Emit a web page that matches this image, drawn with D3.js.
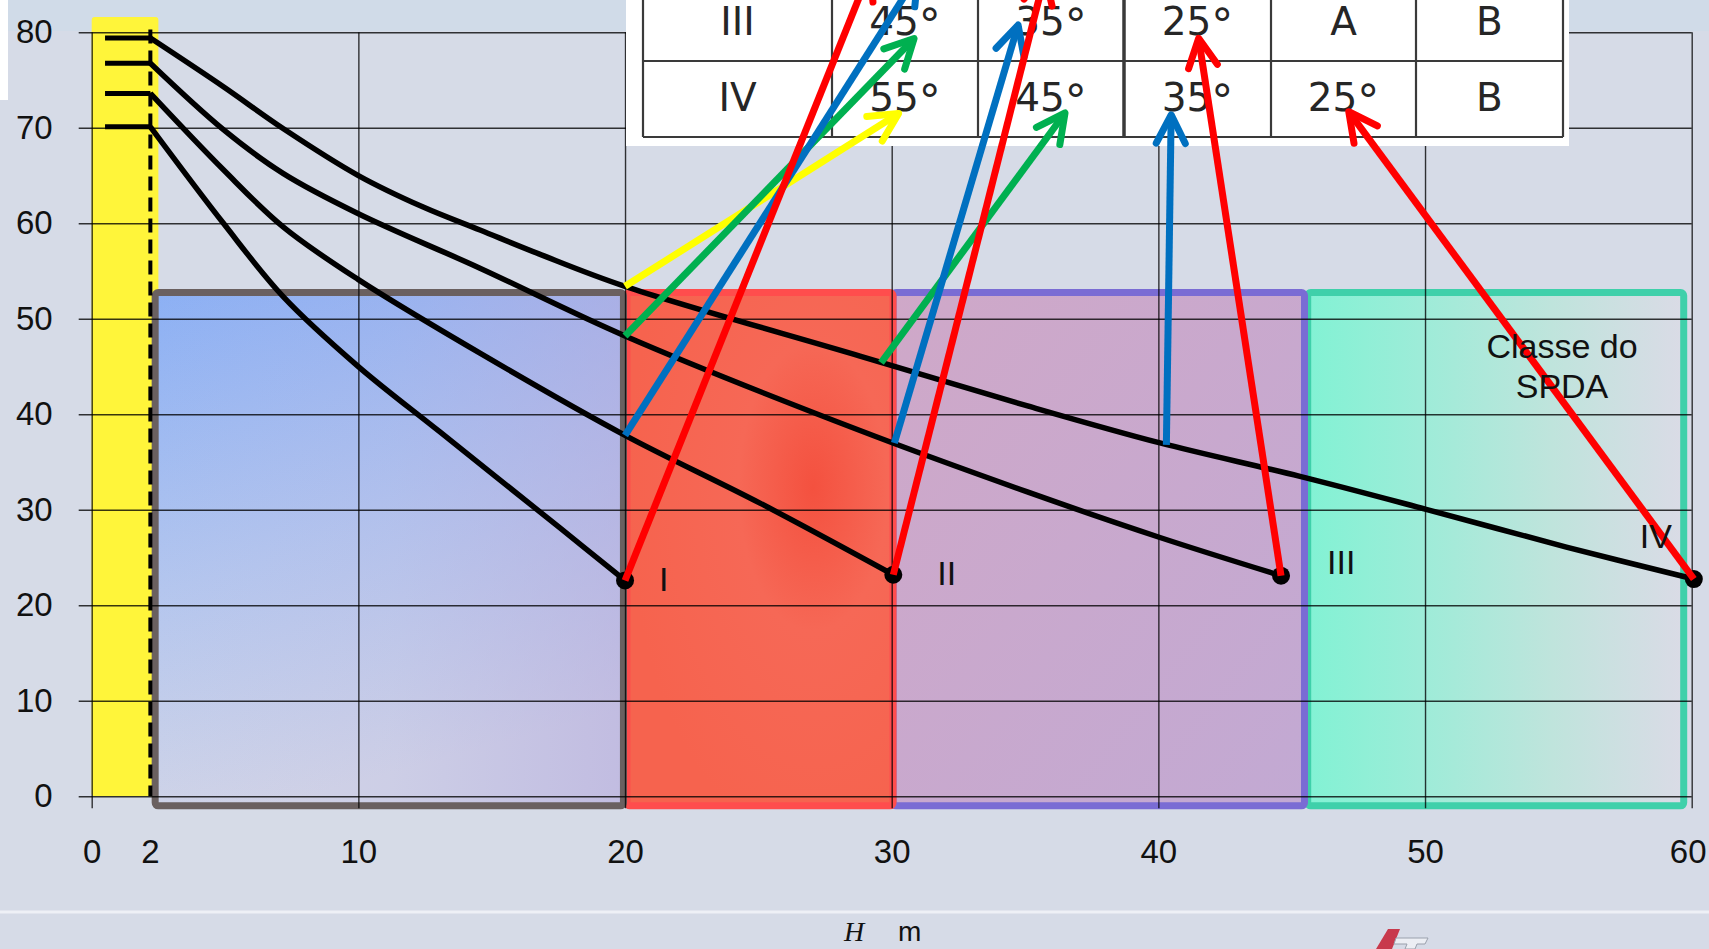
<!DOCTYPE html>
<html>
<head>
<meta charset="utf-8">
<script src="https://cdn.jsdelivr.net/npm/d3@7"></script>
<style>
html, body { margin: 0; padding: 0; background: #d5dbe7; overflow: hidden; }
svg { display: block; }
</style>
</head>
<body>
<svg id="chart" width="1709" height="949"></svg>
<script>
// ---- data ----
const xTicks = [0, 10, 20, 30, 40, 50, 60];
const yTicks = [0, 10, 20, 30, 40, 50, 60, 70, 80];
const mastX = 2.2;
const mastLabel = '2';
const mastLevels = [79.4, 76.75, 73.6, 70.1];
const classLabels = ['I', 'II', 'III', 'IV'];
const endPoints = [[20.0, 22.6], [30.06, 23.2], [44.6, 23.1], [60.08, 22.75]];

const curveI = [[2.2, 70.1], [4.94, 60.0], [7.19, 52.3], [10, 45.0], [13.06, 38.15], [17.56, 28.1], [20.0, 22.6]];
const curveII = [[2.2, 73.6], [4.94, 65.6], [7.19, 59.6], [10, 54.1], [14.56, 46.4], [20, 37.8], [25.06, 30.7], [30.06, 23.2]];
const curveIII = [[2.2, 76.75], [4.94, 69.8], [7.19, 65.2], [10, 61.0], [14.56, 55.3], [20, 48.2], [28.81, 38.3], [35.06, 31.9], [40.06, 27.1], [44.6, 23.1]];
const curveIV = [[2.2, 79.4], [4.94, 74.3], [7.19, 69.9], [10, 65.0], [12.43, 61.7], [14.56, 59.3], [16.77, 56.8], [20, 53.4], [28.81, 46.1], [35.06, 40.9], [40.06, 37.0], [45.31, 33.5], [50.04, 30.05], [55.3, 26.1], [60.08, 22.75]];

// zones of each class (x range), common top / bottom
const zoneX0 = [2.38, 20.07, 30.05, 45.6];
const zoneX1 = [19.94, 30.05, 45.48, 59.7];
const zoneTop = 52.75;
const zoneBottom = -1.0;

// arrows: start on curves -> tip at the table cells
const arrowFrom = [[20, 53.4], [20, 48.2], [20, 37.8], [20.0, 22.6], [29.6, 45.4], [30.1, 37.0], [30.06, 23.2], [40.3, 36.8], [44.6, 23.1], [60.08, 22.75]];
const arrowTo = [[30.26, 71.5], [30.84, 79.35], [30.98, 86.0], [29.19, 86.5], [36.5, 71.55], [34.74, 80.76], [35.75, 86.0], [40.48, 71.36], [41.51, 79.37], [47.14, 71.69]];
const arrowColor = ['#ffff00', '#00b050', '#0070c0', '#ff0000', '#00b050', '#0070c0', '#ff0000', '#0070c0', '#ff0000', '#ff0000'];

// table (only the two visible rows); angles in degrees
const tableRows = ['III', 'IV'];
const tableCells = [
  ['45°', '35°', '25°', 'A', 'B'],
  ['55°', '45°', '35°', '25°', 'B']
];

// ---- drawing ----
const svg = d3.select('#chart');
const x = d3.scaleLinear().domain([0, 60]).range([91.7, 1691.7]);
const y = d3.scaleLinear().domain([0, 80]).range([796.3, 32.3]);

const defs = svg.append('defs');

function linGrad(id, x1, y1, x2, y2, stops) {
  const g = defs.append('linearGradient').attr('id', id)
    .attr('x1', x1).attr('y1', y1).attr('x2', x2).attr('y2', y2);
  stops.forEach(s => g.append('stop').attr('offset', s[0]).attr('stop-color', s[1]).attr('stop-opacity', s[2] == null ? 1 : s[2]));
}
linGrad('gBlue', 0, 0, 0.25, 1, [[0, '#8cb0f4'], [0.55, '#b4c6ee'], [1, '#d2d5e7']]);
linGrad('gBlueOv', 0, 0, 1, 0, [[0, '#b0a8e0', 0], [0.5, '#b0a8e0', 0.15], [1, '#b4a8dc', 0.55]]);
linGrad('gPurple', 0, 0, 1, 1, [[0, '#cfa8c8'], [1, '#c2a9d3']]);
linGrad('gGreen', 0, 0, 1, 0, [[0, '#82f2d4'], [0.3, '#9decd8'], [0.65, '#bfe4dc'], [1, '#dadbe6']]);
const rg = defs.append('radialGradient').attr('id', 'gRed').attr('cx', 0.7).attr('cy', 0.38).attr('r', 0.7);
rg.append('stop').attr('offset', 0).attr('stop-color', '#f4513f');
rg.append('stop').attr('offset', 0.4).attr('stop-color', '#f66856');
rg.append('stop').attr('offset', 1).attr('stop-color', '#f6634e');

// background
svg.append('rect').attr('width', 1709).attr('height', 949).attr('fill', '#d6dbe7');
svg.append('rect').attr('width', 1709).attr('height', 31).attr('fill', '#d0dbe8');
svg.append('rect').attr('width', 8).attr('height', 100).attr('fill', '#ffffff');

// yellow mast band
svg.append('rect')
  .attr('x', x(0)).attr('y', y(81.6))
  .attr('width', x(2.5) - x(0)).attr('height', y(0) - y(81.6))
  .attr('rx', 3).attr('fill', '#fff53a');

// class zones
const zoneFill = ['url(#gBlue)', 'url(#gRed)', 'url(#gPurple)', 'url(#gGreen)'];
const zoneStroke = ['#6a6060', '#ff4d4d', '#7a6cd4', '#3fd0aa'];
[3, 2, 1, 0].forEach(i => {
  const zx = x(zoneX0[i]), zy = y(zoneTop);
  const zw = x(zoneX1[i]) - x(zoneX0[i]), zh = y(zoneBottom) - y(zoneTop);
  svg.append('rect').attr('x', zx).attr('y', zy).attr('width', zw).attr('height', zh)
    .attr('rx', 3).attr('fill', zoneFill[i]);
  if (i === 0) {
    svg.append('rect').attr('x', zx).attr('y', zy).attr('width', zw).attr('height', zh)
      .attr('fill', 'url(#gBlueOv)');
  }
  svg.append('rect').attr('x', zx).attr('y', zy).attr('width', zw).attr('height', zh)
    .attr('rx', 3).attr('fill', 'none').attr('stroke', zoneStroke[i]).attr('stroke-width', 7);
});

// grid + tick labels
const axisFont = "'Liberation Sans', Arial, sans-serif";
const gy = svg.append('g').attr('transform', `translate(${x(0) - 13},0)`)
  .call(d3.axisLeft(y).tickValues(yTicks).tickSize(-(x(60) - x(0) + 13)).tickPadding(26).tickFormat(d3.format('d')));
const gx = svg.append('g').attr('transform', `translate(0,${y(0) + 12})`)
  .call(d3.axisBottom(x).tickValues(xTicks).tickSize(-(y(0) + 12 - y(80))).tickPadding(31).tickFormat(d3.format('d')));
[gx, gy].forEach(g => {
  g.select('.domain').remove();
  g.selectAll('.tick line').attr('stroke', '#000').attr('stroke-opacity', 0.78).attr('stroke-width', 1.4);
  g.selectAll('.tick text').attr('fill', '#111').style('font-family', axisFont).style('font-size', '33px');
});
// last x label sits right at the page edge: keep it inside
gx.selectAll('.tick text').filter(d => d === 60).attr('dx', -4);
svg.append('text')
  .attr('x', x(mastX)).attr('y', y(0) + 12 + 31).attr('dy', '0.71em')
  .attr('text-anchor', 'middle').attr('fill', '#111')
  .style('font-family', axisFont).style('font-size', '33px')
  .text(mastLabel);

// mast: dashed line + level marks
svg.append('line')
  .attr('x1', x(mastX)).attr('x2', x(mastX))
  .attr('y1', y(80.3)).attr('y2', y(0))
  .attr('stroke', '#000').attr('stroke-width', 4).attr('stroke-dasharray', '14 7');
svg.selectAll('.level').data(mastLevels).enter().append('line')
  .attr('x1', x(0.5)).attr('x2', x(mastX))
  .attr('y1', d => y(d)).attr('y2', d => y(d))
  .attr('stroke', '#000').attr('stroke-width', 5);

// protection curves
const line = d3.line().x(d => x(d[0])).y(d => y(d[1])).curve(d3.curveCatmullRom.alpha(0.5));
svg.selectAll('.curve').data([curveI, curveII, curveIII, curveIV]).enter().append('path')
  .attr('d', line).attr('fill', 'none')
  .attr('stroke', '#000').attr('stroke-width', 5.5).attr('stroke-linejoin', 'round');

svg.selectAll('.dot').data(endPoints).enter().append('circle')
  .attr('cx', d => x(d[0])).attr('cy', d => y(d[1])).attr('r', 9).attr('fill', '#000');

// table on white card
const colEdges = [643, 832, 978, 1124, 1271, 1416, 1563];
const rowEdges = [-16, 61, 137];
const tbl = svg.append('g');
tbl.append('rect').attr('x', 626).attr('y', 0).attr('width', 943).attr('height', 146).attr('fill', '#fff');
rowEdges.forEach(ry => tbl.append('line')
  .attr('x1', colEdges[0]).attr('x2', colEdges[colEdges.length - 1]).attr('y1', ry).attr('y2', ry)
  .attr('stroke', '#3a3a3a').attr('stroke-width', 2.2));
colEdges.forEach((cx, i) => tbl.append('line')
  .attr('x1', cx).attr('x2', cx).attr('y1', rowEdges[0]).attr('y2', rowEdges[2])
  .attr('stroke', '#3a3a3a').attr('stroke-width', i === 3 ? 3.5 : 2.2));
tableRows.forEach((rowName, r) => {
  const cells = [rowName].concat(tableCells[r]);
  cells.forEach((t, c) => {
    const txt = tbl.append('text')
      .attr('x', (colEdges[c] + colEdges[c + 1]) / 2)
      .attr('y', rowEdges[r + 1] - 26)
      .attr('text-anchor', 'middle').attr('fill', '#262626')
      .style('font-family', "'DejaVu Sans', Verdana, sans-serif").style('font-size', '39px');
    if (t.endsWith('°')) {
      txt.append('tspan').text(t.slice(0, -1));
      txt.append('tspan').attr('dy', 5).style('font-size', '44px').text('°');
    } else {
      txt.text(t);
    }
  });
});

// arrows
const headLen = 32, headAng = 27 * Math.PI / 180;
arrowFrom.forEach((p, i) => {
  const x0 = x(p[0]), y0 = y(p[1]), x1 = x(arrowTo[i][0]), y1 = y(arrowTo[i][1]);
  const a = Math.atan2(y0 - y1, x0 - x1);
  const g = svg.append('g').attr('stroke', arrowColor[i]).attr('stroke-width', 7).attr('fill', 'none');
  g.append('line').attr('x1', x0).attr('y1', y0).attr('x2', x1).attr('y2', y1);
  g.append('path')
    .attr('d', `M${x1 + headLen * Math.cos(a + headAng)},${y1 + headLen * Math.sin(a + headAng)}L${x1},${y1}L${x1 + headLen * Math.cos(a - headAng)},${y1 + headLen * Math.sin(a - headAng)}`)
    .attr('stroke-linecap', 'round').attr('stroke-linejoin', 'round');
});

// class labels next to the end points
const labelOffset = [[34, 11], [44, 10], [46, -2], [-54, -31]];
svg.selectAll('.clabel').data(classLabels).enter().append('text')
  .attr('x', (d, i) => x(endPoints[i][0]) + labelOffset[i][0])
  .attr('y', (d, i) => y(endPoints[i][1]) + labelOffset[i][1])
  .attr('fill', '#111')
  .style('font-family', axisFont).style('font-size', '34px')
  .text(d => d);

const spda = svg.append('text').attr('text-anchor', 'middle').attr('fill', '#111')
  .style('font-family', axisFont).style('font-size', '34px');
spda.append('tspan').attr('x', 1562).attr('y', 358).text('Classe do');
spda.append('tspan').attr('x', 1562).attr('y', 398).text('SPDA');

// footer: separator, axis title and logo
svg.append('line').attr('x1', 0).attr('x2', 1709).attr('y1', 912).attr('y2', 912)
  .attr('stroke', '#eef0f6').attr('stroke-width', 3);
svg.append('text').attr('x', 844).attr('y', 941).attr('fill', '#111')
  .style('font-family', "'Liberation Serif', 'Times New Roman', serif").style('font-style', 'italic').style('font-size', '28px')
  .text('H');
svg.append('text').attr('x', 898).attr('y', 941).attr('fill', '#111')
  .style('font-family', axisFont).style('font-size', '28px')
  .text('m');
const logo = svg.append('g');
logo.append('path').attr('d', 'M1388,929 L1400,929 L1392,949 L1376,949 Z').attr('fill', '#c8394c');
logo.append('path').attr('d', 'M1396,938 L1428,938 L1425,944 L1417,944 L1415,949 L1405,949 L1407,944 L1394,944 Z').attr('fill', '#eceef4').attr('stroke', '#9aa0ac').attr('stroke-width', 1);
</script>
</body>
</html>
